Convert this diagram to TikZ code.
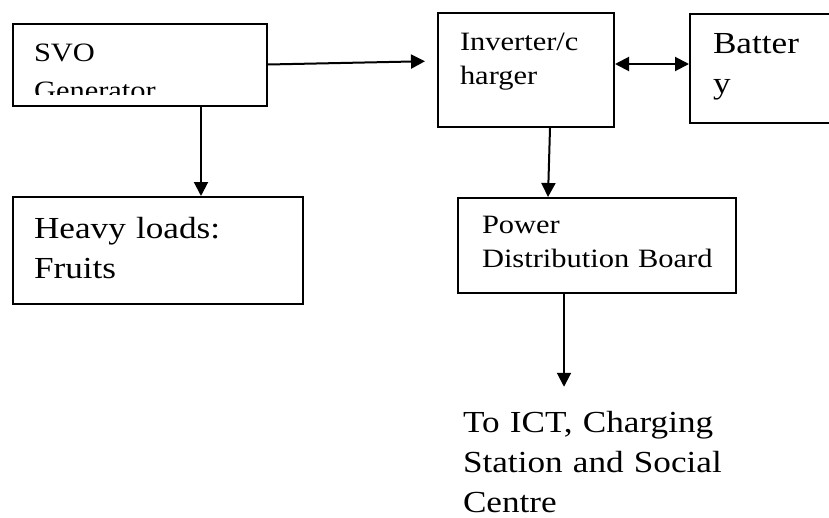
\documentclass[tikz,border=0pt]{standalone}
\usepackage{fontspec}
\setmainfont[FakeStretch=1.15]{Liberation Serif}
\usetikzlibrary{positioning,arrows.meta}

\begin{document}
\begin{tikzpicture}[
    x=1pt, y=-1pt,
    >={Triangle[length=14pt, width=14pt]},
    line width=2pt,
    blk/.style={draw, line width=2pt, anchor=north west, inner sep=0pt},
    txt/.style={anchor=base west, inner sep=0pt, text width=290pt, align=left},
    small/.style={txt, font=\fontsize{26.5}{34}\selectfont},
    large/.style={txt, font=\fontsize{30.6}{40}\selectfont},
  ]

  % page frame
  \clip (0,0) rectangle (829,517);

  % ============================================================
  % Boxes
  % ============================================================
  \node[blk, minimum width=254pt, minimum height=82pt] (svo) at (12,23) {};
  \node[blk, minimum width=176pt, minimum height=114pt] (inv) at (437,12) {};
  \node[blk, minimum width=160pt, minimum height=109pt] (bat) at (689,13) {};
  \node[blk, minimum width=290pt, minimum height=107pt] (heavy) at (12,196) {};
  \node[blk, minimum width=278pt, minimum height=95pt] (pdb) at (457,197) {};

  % ============================================================
  % Texts
  % ============================================================
  \begin{scope}
    \clip (12,23) rectangle (266,94);
    \node[small] (svotxt) at (33,61) {SVO\\[4.5pt]Generator};
  \end{scope}
  \node[small] (invtxt) at (459,50) {Inverter/c\\harger};
  \node[large] (battxt) at (712,53) {Batter\\y};
  \node[large] (heavytxt) at (33,238) {Heavy loads:\\Fruits};
  \node[small] (pdbtxt) at (481,233) {Power\\Distribution Board};
  \node[large] (ict) at (462,432) {To ICT, Charging\\Station and Social\\Centre};

  % ============================================================
  % Connectors
  % ============================================================
  \draw[->, shorten >=12pt] ([yshift=0.5pt]svo.east) -- ([yshift=9pt]inv.west);
  \draw[<->] ([yshift=6pt]inv.east) -- ([yshift=6pt]inv.east -| bat.west);
  \draw[->] ([xshift=61pt]svo.south) -- ([xshift=61pt]svo.south |- heavy.north);
  \draw[->] ([xshift=24pt]inv.south) -- ([xshift=-49pt]pdb.north);
  \draw[->, shorten >=23pt] ([xshift=-33pt]pdb.south) -- ([xshift=-33pt]pdb.south |- ict.north);

\end{tikzpicture}
\end{document}
